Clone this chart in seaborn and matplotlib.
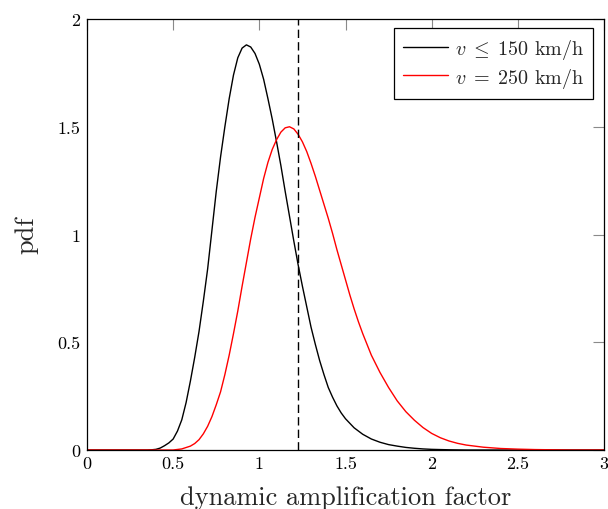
import numpy as np
import pandas as pd
import matplotlib
matplotlib.use("Agg")
import matplotlib.pyplot as plt
import seaborn as sns

# ---- data ----
x_black = [0.0, 0.1, 0.2, 0.3, 0.35, 0.375, 0.40, 0.425, 0.45, 0.475, 0.50, 0.525, 0.55, 0.575,
           0.60, 0.625, 0.65, 0.675, 0.70, 0.725, 0.75, 0.775, 0.80, 0.825, 0.85, 0.875,
           0.90, 0.925, 0.95, 0.975, 1.00, 1.025, 1.05, 1.075, 1.10, 1.125, 1.15, 1.175,
           1.20, 1.225, 1.25, 1.275, 1.30, 1.325, 1.35, 1.375, 1.40, 1.425, 1.45, 1.475,
           1.50, 1.55, 1.60, 1.65, 1.70, 1.75, 1.80, 1.85, 1.90, 1.95, 2.00, 2.10, 2.20,
           2.50, 3.00]
y_black = [0.0, 0.0, 0.0, 0.0, 0.0, 0.001, 0.003, 0.009, 0.02, 0.033, 0.051, 0.088, 0.14, 0.22,
           0.32, 0.43, 0.55, 0.69, 0.84, 1.02, 1.20, 1.36, 1.50, 1.63, 1.74, 1.82,
           1.865, 1.88, 1.87, 1.84, 1.79, 1.72, 1.63, 1.535, 1.43, 1.32, 1.20, 1.085,
           0.97, 0.86, 0.76, 0.665, 0.57, 0.49, 0.415, 0.35, 0.29, 0.245, 0.205, 0.172,
           0.145, 0.103, 0.073, 0.051, 0.036, 0.025, 0.018, 0.012, 0.008, 0.005, 0.003, 0.001, 0.0,
           0.0, 0.0]

x_red = [0.0, 0.1, 0.2, 0.3, 0.4, 0.50, 0.55, 0.60, 0.625, 0.65, 0.675, 0.70, 0.725, 0.75,
         0.775, 0.80, 0.825, 0.85, 0.875, 0.90, 0.925, 0.95, 0.975, 1.00, 1.025, 1.05,
         1.075, 1.10, 1.125, 1.15, 1.175, 1.20, 1.225, 1.25, 1.275, 1.30, 1.325, 1.35,
         1.375, 1.40, 1.425, 1.45, 1.475, 1.50, 1.525, 1.55, 1.575, 1.60, 1.65, 1.70,
         1.75, 1.80, 1.85, 1.90, 1.95, 2.00, 2.05, 2.10, 2.15, 2.20, 2.30, 2.40, 2.50,
         2.60, 2.70, 2.80, 3.00]
y_red = [0.0, 0.0, 0.0, 0.0, 0.0, 0.0, 0.005, 0.018, 0.03, 0.048, 0.075, 0.11, 0.155, 0.21,
         0.27, 0.35, 0.44, 0.54, 0.645, 0.76, 0.87, 0.98, 1.08, 1.17, 1.26, 1.335,
         1.395, 1.44, 1.475, 1.495, 1.50, 1.49, 1.465, 1.43, 1.385, 1.33, 1.27, 1.205,
         1.14, 1.075, 1.005, 0.93, 0.86, 0.79, 0.72, 0.655, 0.595, 0.54, 0.44, 0.36,
         0.29, 0.228, 0.178, 0.138, 0.104, 0.077, 0.057, 0.042, 0.031, 0.023, 0.013, 0.007, 0.004,
         0.002, 0.001, 0.0, 0.0]

labels = [r"$v\;\leq\;150$ km/h", r"$v\;=\;250$ km/h"]
threshold = 1.226

xticks = [0, 0.5, 1, 1.5, 2, 2.5, 3]
xtick_labels = ["0", "0.5", "1", "1.5", "2", "2.5", "3"]
yticks = [0, 0.5, 1, 1.5, 2]
ytick_labels = ["0", "0.5", "1", "1.5", "2"]

df = pd.concat([
    pd.DataFrame({"x": x_black, "pdf": y_black, "case": labels[0]}),
    pd.DataFrame({"x": x_red, "pdf": y_red, "case": labels[1]}),
], ignore_index=True)

sns.set_theme(style="white")
plt.rcParams["font.family"] = ["serif"]
plt.rcParams["font.serif"] = ["cmr10", "DejaVu Serif"]
plt.rcParams["mathtext.fontset"] = "cm"
plt.rcParams["axes.formatter.use_mathtext"] = True

fig = plt.figure(figsize=(6.08, 5.10), dpi=100)
ax = fig.add_axes([87 / 608, 59 / 510, 517 / 608, 431 / 510])

sns.lineplot(data=df, x="x", y="pdf", hue="case", palette=["black", "red"],
             linewidth=1.0, ax=ax, sort=False, estimator=None)
ax.axvline(threshold, color="black", linewidth=1.0, linestyle=(0, (6, 3)))

ax.set_xlim(0, 3)
ax.set_ylim(0, 2)
ax.set_xticks(xticks)
ax.set_xticklabels(xtick_labels)
ax.set_yticks(yticks)
ax.set_yticklabels(ytick_labels)
ax.tick_params(direction="in", length=8, width=0.8, color="#8a8a8a",
               top=True, right=True, labelsize=13, pad=4, labelcolor="black")
ax.tick_params(axis="y", pad=5)
for s in ax.spines.values():
    s.set_color("black")
    s.set_linewidth(0.9)

ax.set_xlabel("dynamic amplification factor", fontsize=19, labelpad=10)
ax.set_ylabel("pdf", fontsize=19, labelpad=13)

leg = ax.legend(loc="upper right", fontsize=14.5, frameon=True, fancybox=False,
                handlelength=2.2, handletextpad=0.35, borderpad=0.45, labelspacing=0.22,
                borderaxespad=0, bbox_to_anchor=(0.979, 0.979))
leg.get_frame().set_edgecolor("black")
leg.get_frame().set_linewidth(0.9)
leg.get_frame().set_alpha(1)

fig.savefig("out.png", dpi=100)
